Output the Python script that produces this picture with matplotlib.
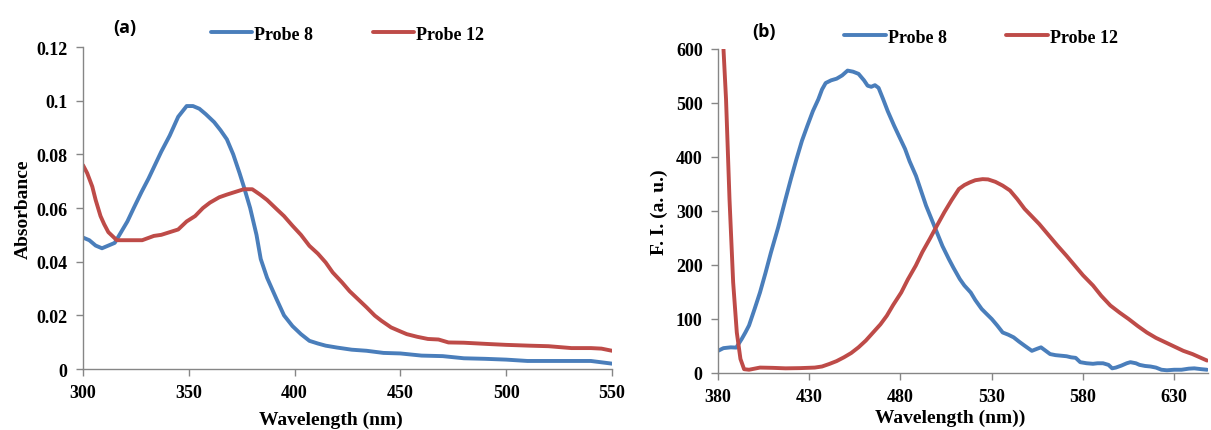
import matplotlib.pyplot as plt
import numpy as np

plt.rcParams['font.family'] = ['Liberation Serif', 'DejaVu Serif']

# Panel (a): absorbance
wl_a_p8 = [300, 303, 306, 309, 312, 315, 318, 321, 324, 327.7, 331, 334, 337, 341, 345,
           347, 349, 352, 355, 358, 362, 365, 368, 371, 374, 376, 379, 382, 384, 387,
           391.5, 395, 399, 403, 407, 411, 414.7, 420, 427, 434, 442, 450, 460, 470,
           480, 490, 500, 510, 520, 530, 540, 545, 550]
abs_a_p8 = [0.049, 0.048, 0.046, 0.045, 0.046, 0.047, 0.051, 0.055, 0.060, 0.066, 0.071,
            0.076, 0.081, 0.087, 0.094, 0.096, 0.098, 0.098, 0.097, 0.095, 0.092, 0.089,
            0.0856, 0.080, 0.073, 0.068, 0.060, 0.050, 0.041, 0.034, 0.026, 0.020, 0.016,
            0.013, 0.0105, 0.0095, 0.0087, 0.008, 0.0072, 0.0068, 0.006, 0.0058, 0.005,
            0.0048, 0.004, 0.0038, 0.0035, 0.003, 0.003, 0.003, 0.003, 0.0025, 0.002]

wl_a_p12 = [300, 302, 304.4, 306, 308.3, 310, 312, 316, 320, 324, 328, 333.5, 337, 341, 345,
            349, 353, 356.7, 360, 364.4, 368, 372, 376, 380, 383.7, 387, 391.5, 395, 399,
            403, 407, 411, 414.7, 418, 422.4, 426, 430, 434, 437.9, 441, 445.6, 450, 453,
            458, 463, 468, 472.7, 480, 492, 500, 511, 520, 530.8, 540, 545, 550]
abs_a_p12 = [0.076, 0.073, 0.068, 0.063, 0.057, 0.054, 0.051, 0.048, 0.048, 0.048, 0.048,
             0.0496, 0.050, 0.051, 0.052, 0.055, 0.057, 0.060, 0.062, 0.064, 0.065, 0.066,
             0.067, 0.067, 0.065, 0.063, 0.0596, 0.057, 0.0534, 0.050, 0.0459, 0.043,
             0.0397, 0.036, 0.0323, 0.029, 0.026, 0.023, 0.0199, 0.018, 0.0155, 0.014,
             0.013, 0.012, 0.0112, 0.011, 0.0099, 0.0098, 0.0093, 0.009, 0.0087, 0.0085,
             0.0078, 0.0078, 0.0076, 0.0068]

# Panel (b): fluorescence
wl_b_p8 = [380, 383, 387, 390, 393, 395, 397, 400, 403, 406, 409, 413, 417, 420, 423, 426,
           429, 432, 435, 437, 439, 442, 445, 448, 451, 454, 457, 460, 462, 464, 466, 468,
           470.5, 473, 476.5, 479, 482.5, 485, 488.5, 491, 494, 497, 500, 503, 506.5, 509,
           512.5, 515, 518.5, 521, 524.5, 527, 530, 533, 536, 539, 542, 545, 548, 552,
           555, 557, 560, 562, 565, 568, 571, 573.5, 576, 578.5, 582, 585.5, 588, 591,
           594, 596, 598, 601, 604, 606, 609, 611, 614, 617, 620, 623, 626, 630, 634,
           638, 641, 645, 648]
fi_b_p8 = [41, 46, 47.5, 47, 63, 75, 88, 118, 149, 185, 223, 270, 322, 360, 396, 430, 458,
           485, 507, 525, 537, 542, 545, 551, 560, 558, 554, 542, 532, 530, 533, 528,
           507, 485, 458, 440, 415, 392, 365, 340, 310, 285, 260, 235, 211, 195, 174, 162,
           149, 135, 118.5, 110, 100, 88, 75, 71, 66, 58, 50.6, 41, 45, 47.5, 40, 35, 33,
           32, 31, 29, 28, 20, 18, 17, 18, 18, 15, 8.6, 10, 13.6, 18, 20, 18, 15, 13, 12,
           10, 6, 5, 6, 6, 8, 8.6, 7, 6]

wl_b_p12 = [381.5, 383, 384.4, 386.3, 388.3, 390.3, 392.3, 394.3, 397, 400, 403, 410, 417,
            425, 433, 437, 441, 445, 449, 453, 457, 461, 465, 469, 472.5, 476, 480.4, 484,
            488.4, 492, 496, 500, 504, 508, 512, 515, 518, 521, 525, 528, 532, 536, 540,
            544, 548, 552, 556, 561, 566, 571, 575.5, 580, 585.5, 590, 595, 600, 605, 610,
            615, 620, 625, 630, 635, 640, 644, 648]
fi_b_p12 = [700, 600, 507, 322, 168, 75, 26, 7, 6, 8, 10, 9.5, 8.6, 9, 10, 12, 16.7, 22, 29,
            37, 47.5, 60, 75, 90, 106, 126, 149, 173, 199, 224, 248, 273, 297.5, 320, 340.7,
            348, 353, 357, 359, 358.5, 354, 347, 338, 322, 304, 290, 276, 256, 236, 217, 199,
            181, 162, 143, 125, 112, 100, 87, 75, 65, 57, 49, 41, 35, 29, 23]

xticks_a = [300, 350, 400, 450, 500, 550]
yticks_a = [0, 0.02, 0.04, 0.06, 0.08, 0.1, 0.12]
ytick_labels_a = ['0', '0.02', '0.04', '0.06', '0.08', '0.1', '0.12']
xticks_b = [380, 430, 480, 530, 580, 630]
yticks_b = [0, 100, 200, 300, 400, 500, 600]

blue = '#4A7EBB'
red = '#BE4B48'
spine_gray = '#868686'

fig = plt.figure(figsize=(12.11, 4.31), dpi=100, facecolor='white')
ax1 = fig.add_axes([0.0685, 0.1415, 0.4369, 0.7471])
ax2 = fig.add_axes([0.5929, 0.1323, 0.4046, 0.7517])


def style_axes(ax):
    for side in ['top', 'right']:
        ax.spines[side].set_visible(False)
    for side in ['left', 'bottom']:
        ax.spines[side].set_color(spine_gray)
        ax.spines[side].set_linewidth(1.0)
    ax.tick_params(direction='out', length=5, width=1, color=spine_gray,
                   labelsize=13, pad=6)
    for lbl in ax.get_xticklabels() + ax.get_yticklabels():
        lbl.set_fontweight('bold')


# (a)
ax1.plot(wl_a_p8, abs_a_p8, color=blue, lw=2.8, label='Probe 8', solid_capstyle='round')
ax1.plot(wl_a_p12, abs_a_p12, color=red, lw=2.8, label='Probe 12', solid_capstyle='round')
ax1.set_xlim(300, 550)
ax1.set_ylim(0, 0.12)
ax1.set_xticks(xticks_a)
ax1.set_yticks(yticks_a)
ax1.set_yticklabels(ytick_labels_a)
style_axes(ax1)
ax1.set_xlabel('Wavelength (nm)', fontsize=14, fontweight='bold')
ax1.xaxis.set_label_coords(0.468, -0.13)
ax1.set_ylabel('Absorbance', fontsize=14, fontweight='bold', labelpad=3)
ax1.legend(loc='center', bbox_to_anchor=(0.5, 1.04), ncol=2, frameon=False,
           prop={'weight': 'bold', 'size': 13}, handlelength=2.3, handletextpad=0.1,
           columnspacing=3.3)

# (b)
ax2.plot(wl_b_p8, fi_b_p8, color=blue, lw=2.8, label='Probe 8', solid_capstyle='round')
ax2.plot(wl_b_p12, fi_b_p12, color=red, lw=2.8, label='Probe 12', solid_capstyle='round')
ax2.set_xlim(380, 648.5)
ax2.set_ylim(0, 600)
ax2.set_xticks(xticks_b)
ax2.set_yticks(yticks_b)
style_axes(ax2)
ax2.set_xlabel('Wavelength (nm))', fontsize=14, fontweight='bold')
ax2.xaxis.set_label_coords(0.473, -0.111)
ax2.set_ylabel('F. I. (a. u.)', fontsize=14, fontweight='bold', labelpad=6)
ax2.legend(loc='center', bbox_to_anchor=(0.537, 1.037), ncol=2, frameon=False,
           prop={'weight': 'bold', 'size': 13}, handlelength=2.3, handletextpad=0.1,
           columnspacing=3.3)

fig.text(125 / 1211, 1 - 28 / 431, '(a)', fontsize=13, fontweight='bold',
         family=['Open Sans', 'DejaVu Sans'], ha='center', va='center')
fig.text(764 / 1211, 1 - 32 / 431, '(b)', fontsize=13, fontweight='bold',
         family=['Open Sans', 'DejaVu Sans'], ha='center', va='center')

fig.savefig('out.png', dpi=100, facecolor='white')
